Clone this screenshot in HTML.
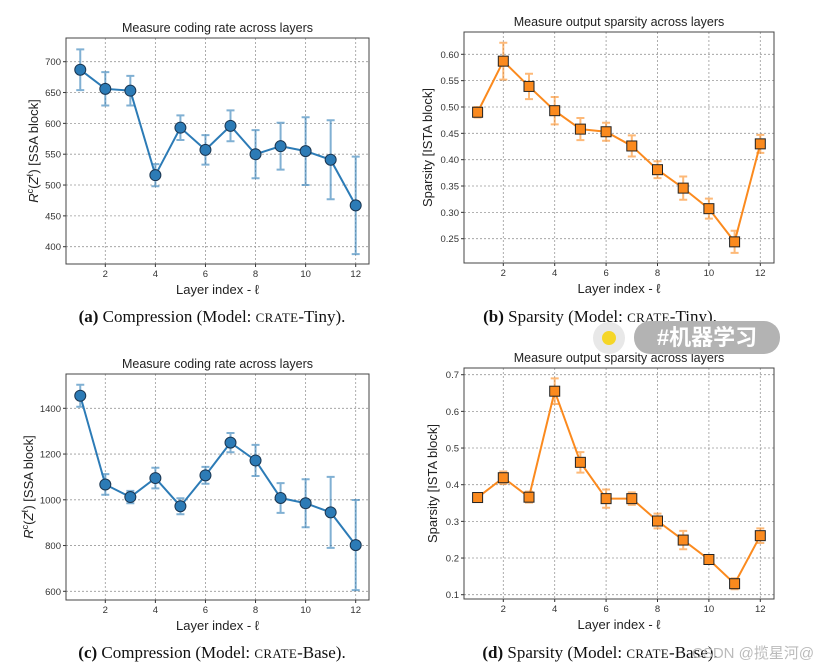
<!DOCTYPE html>
<html><head><meta charset="utf-8">
<style>
body{margin:0;background:#fff;width:828px;height:669px;overflow:hidden;position:relative;font-family:"Liberation Sans",sans-serif}
svg{position:absolute;left:0;top:0}
.cap{position:absolute;font-family:"Liberation Serif",serif;font-size:17px;color:#111;white-space:nowrap;transform:translateX(-50%)}
.sc{font-size:13px;letter-spacing:0.3px}
</style></head><body>
<svg id="s" width="828" height="669"></svg>
<div class="cap" style="left:212px;top:307px"><b>(a)</b> Compression (Model: <span class="sc">CRATE</span>-Tiny).</div>
<div class="cap" style="left:600px;top:307px"><b>(b)</b> Sparsity (Model: <span class="sc">CRATE</span>-Tiny).</div>
<div class="cap" style="left:212px;top:643px"><b>(c)</b> Compression (Model: <span class="sc">CRATE</span>-Base).</div>
<div class="cap" style="left:600px;top:643px"><b>(d)</b> Sparsity (Model: <span class="sc">CRATE</span>-Base).</div>
<div style="position:absolute;left:593px;top:322px;width:32px;height:32px;border-radius:16px;background:#e8e8e8"><div style="position:absolute;left:9px;top:9px;width:14px;height:14px;border-radius:7px;background:#f5d627"></div></div>
<div style="position:absolute;left:634px;top:321px;width:146px;height:33px;border-radius:16px;background:#b3b3b3;color:#fff;font:bold 22px 'Liberation Sans','Noto Sans CJK SC',sans-serif;text-align:center;line-height:33px">#机器学习</div>
<div style="position:absolute;left:692px;top:642px;color:#bbb;font:15px 'Liberation Sans','Noto Sans CJK SC',sans-serif">CSDN @揽星河@</div>
<script>
const layers=[1,2,3,4,5,6,7,8,9,10,11,12];
const xTicks=[2,4,6,8,10,12];
const aVals=[687,656,653,516,593,557,596,550,563,555,541,467];
const aErr=[33,27,24,18,20,24,25,39,38,55,64,79];
const aTicks=[400,450,500,550,600,650,700];
const bVals=[0.490,0.587,0.539,0.493,0.458,0.453,0.426,0.381,0.346,0.307,0.244,0.430];
const bErr=[0.010,0.035,0.024,0.026,0.021,0.017,0.020,0.016,0.022,0.019,0.021,0.017];
const bTicks=[0.25,0.30,0.35,0.40,0.45,0.50,0.55,0.60];
const cVals=[1455,1067,1012,1095,972,1107,1250,1172,1008,985,945,802];
const cErr=[48,45,27,45,35,37,42,68,65,105,155,197];
const cTicks=[600,800,1000,1200,1400];
const dVals=[0.365,0.419,0.366,0.655,0.461,0.362,0.362,0.301,0.249,0.196,0.130,0.261];
const dErr=[0.005,0.017,0.015,0.035,0.028,0.025,0.017,0.020,0.025,0.012,0.015,0.020];
const dTicks=[0.1,0.2,0.3,0.4,0.5,0.6,0.7];
const S=document.getElementById('s');
function mk(t,a,p){const e=document.createElementNS('http://www.w3.org/2000/svg',t);for(const k in a)e.setAttribute(k,a[k]);(p||S).appendChild(e);return e;}
function chart(o){
 const g=mk('g',{});
 
 
 const xs=v=>o.x2+(v-2)*(o.x12-o.x2)/10;
 const ys=v=>o.yT0+(v-o.t0)*(o.yT1-o.yT0)/(o.t1-o.t0);
 o.ticks.forEach(t=>{const y=ys(t);
  mk('line',{x1:o.L,x2:o.R,y1:y,y2:y,stroke:'#999','stroke-width':0.8,'stroke-dasharray':'2,2'},g);
  mk('line',{x1:o.L-3,x2:o.L,y1:y,y2:y,stroke:'#333'},g);
  const tx=mk('text',{x:o.L-5,y:y+3.5,'text-anchor':'end','font-size':9.5,fill:'#333'},g);tx.textContent=o.fmt(t);
  
  });
 xTicks.forEach(t=>{const x=xs(t);
  mk('line',{x1:x,x2:x,y1:o.T,y2:o.B,stroke:'#999','stroke-width':0.8,'stroke-dasharray':'2,2'},g);
  mk('line',{x1:x,x2:x,y1:o.B,y2:o.B+3,stroke:'#333'},g);
  const tx=mk('text',{x:x,y:o.B+13,'text-anchor':'middle','font-size':9.5,fill:'#333'},g);tx.textContent=t;
  
  });
 mk('rect',{x:o.L,y:o.T,width:o.R-o.L,height:o.B-o.T,fill:'none',stroke:'#444','stroke-width':1},g);
 layers.forEach((l,i)=>{const x=xs(l),y1=ys(o.vals[i]+o.err[i]),y2=ys(o.vals[i]-o.err[i]);
  mk('path',{d:`M${x},${y1}V${y2}M${x-4},${y1}H${x+4}M${x-4},${y2}H${x+4}`,stroke:o.ec,'stroke-width':2,fill:'none'},g);});
 const pl=mk('polyline',{points:layers.map((l,i)=>xs(l)+','+ys(o.vals[i])).join(' '),fill:'none',stroke:o.c,'stroke-width':2},g);
 
 
 layers.forEach((l,i)=>{const x=xs(l),y=ys(o.vals[i]);let m;
  if(o.sq)m=mk('rect',{x:x-5,y:y-5,width:10,height:10,fill:o.c,stroke:'#222','stroke-width':1},g);
  else m=mk('circle',{cx:x,cy:y,r:5.5,fill:o.c,stroke:'#1a3550','stroke-width':1},g);
  
  });
 const ti=mk('text',{x:(o.L+o.R)/2,y:o.T-6,'text-anchor':'middle','font-size':12.5,fill:'#222'},g);ti.textContent=o.title;
 
 
 const xl=mk('text',{x:(o.L+o.R)/2,y:o.B+30,'text-anchor':'middle','font-size':13,fill:'#222'},g);xl.textContent='Layer index - \u2113';
 
 
 const cy=(o.T+o.B)/2;
 const yl=mk('text',{x:o.ylx,y:cy,'text-anchor':'middle','font-size':13,fill:'#222',transform:`rotate(-90 ${o.ylx} ${cy})`},g);yl.innerHTML=o.ylab;
 
 
}
const rl='<tspan font-style="italic">R</tspan><tspan font-size="9" dy="-5">c</tspan><tspan dy="5">(</tspan><tspan font-style="italic">Z</tspan><tspan font-size="9" dy="-5">\u2113</tspan><tspan dy="5">) [SSA block]</tspan>';
const blue='#2c7bb6',orange='#fb8a1e';
chart({name:'chart-a',L:66,R:369,T:38,B:264,x2:105.3,x12:355.7,t0:700,yT0:61.7,t1:400,yT1:246.7,ticks:aTicks,vals:aVals,err:aErr,fmt:v=>v,c:blue,ec:'rgba(44,123,182,0.6)',sq:false,title:'Measure coding rate across layers',ylab:rl,ylx:38});
chart({name:'chart-b',L:464,R:774,T:32,B:263,x2:503.3,x12:760.3,t0:0.60,yT0:54.3,t1:0.25,yT1:238.7,ticks:bTicks,vals:bVals,err:bErr,fmt:v=>v.toFixed(2),c:orange,ec:'rgba(251,138,30,0.6)',sq:true,title:'Measure output sparsity across layers',ylab:'Sparsity [ISTA block]',ylx:432});
chart({name:'chart-c',L:66,R:369,T:374,B:600,x2:105.3,x12:355.7,t0:1400,yT0:408.3,t1:600,yT1:591.3,ticks:cTicks,vals:cVals,err:cErr,fmt:v=>v,c:blue,ec:'rgba(44,123,182,0.6)',sq:false,title:'Measure coding rate across layers',ylab:rl,ylx:33});
chart({name:'chart-d',L:464,R:774,T:368,B:599,x2:503.3,x12:760.3,t0:0.7,yT0:374.7,t1:0.1,yT1:594.7,ticks:dTicks,vals:dVals,err:dErr,fmt:v=>v.toFixed(1),c:orange,ec:'rgba(251,138,30,0.6)',sq:true,title:'Measure output sparsity across layers',ylab:'Sparsity [ISTA block]',ylx:437});
</script>
</body></html>
